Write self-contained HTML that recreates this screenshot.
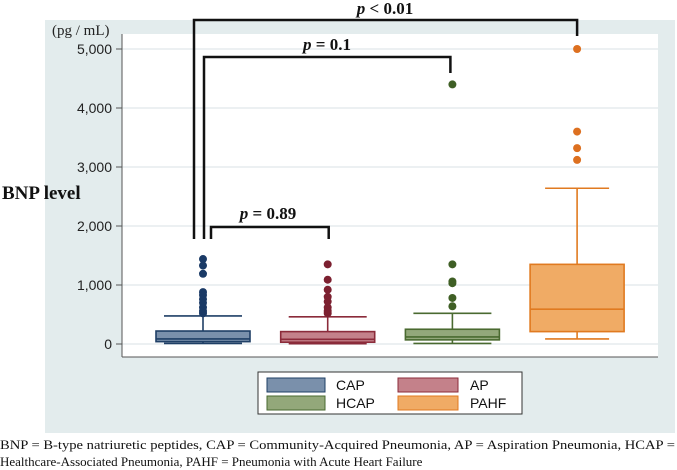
<!DOCTYPE html>
<html><head><meta charset="utf-8"><style>
body{margin:0;background:#fff;width:677px;height:470px;overflow:hidden}
svg{display:block}
</style></head><body>
<svg id="chart" width="677" height="470" xmlns="http://www.w3.org/2000/svg" font-family="Liberation Sans, sans-serif">
<rect x="45" y="20" width="630" height="413" fill="#e3eced"/>
<rect x="122" y="34" width="536" height="323" fill="#ffffff"/>
<g id="grid"></g><g id="yaxis"></g><g id="boxes"></g>
<line x1="122" y1="34" x2="122" y2="357" stroke="#555" stroke-width="1"/>
<line x1="122" y1="357" x2="658" y2="357" stroke="#555" stroke-width="1"/>
<text x="52" y="35" font-family="Liberation Serif, serif" font-size="15" fill="#222">(pg / mL)</text>
<text x="2" y="199" font-family="Liberation Serif, serif" font-size="19" font-weight="bold" fill="#111">BNP level</text>
<g id="brackets" fill="none" stroke="#111" stroke-width="2.5"></g>
<g font-family="Liberation Serif, serif" font-weight="bold" font-size="17" fill="#111" text-anchor="middle">
<text x="385" y="14"><tspan font-style="italic">p</tspan> &lt; 0.01</text>
<text x="327" y="50"><tspan font-style="italic">p</tspan> = 0.1</text>
<text x="268" y="219"><tspan font-style="italic">p</tspan> = 0.89</text>
</g>
<g>
<rect x="258" y="372" width="264" height="42" fill="#fff" stroke="#333" stroke-width="1"/>
<rect x="267" y="378" width="58" height="14" fill="#7a90ab" stroke="#1f3f66"/>
<text x="336" y="390" font-size="14" fill="#111">CAP</text>
<rect x="398" y="378" width="60" height="14" fill="#c4818a" stroke="#8b2b3a"/>
<text x="470" y="390" font-size="14" fill="#111">AP</text>
<rect x="267" y="396" width="58" height="14" fill="#93a87a" stroke="#4a6a30"/>
<text x="336" y="408" font-size="14" fill="#111">HCAP</text>
<rect x="398" y="396" width="60" height="14" fill="#f0ab65" stroke="#e07a20"/>
<text x="470" y="408" font-size="14" fill="#111">PAHF</text>
</g>
<g font-family="Liberation Serif, serif" font-size="13" fill="#111">
<text x="0" y="449" textLength="675" lengthAdjust="spacingAndGlyphs">BNP = B-type natriuretic peptides, CAP = Community-Acquired Pneumonia, AP = Aspiration Pneumonia, HCAP =</text>
<text x="0" y="466">Healthcare-Associated Pneumonia, PAHF = Pneumonia with Acute Heart Failure</text>
</g>
</svg>
<script>
const categories = ["CAP","AP","HCAP","PAHF"];
const lowerWhisker = [10, 5, 10, 85];
const q1 = [40, 30, 70, 210];
const median = [85, 80, 120, 590];
const q3 = [220, 210, 250, 1350];
const upperWhisker = [475, 460, 520, 2640];
const outliersCAP = [1440, 1330, 1190, 880, 830, 760, 700, 620, 560, 520];
const outliersAP = [1350, 1090, 920, 800, 720, 620, 560, 520];
const outliersHCAP = [4400, 1350, 1060, 1030, 780, 640];
const outliersPAHF = [5000, 3600, 3320, 3120];
const yTicks = [0, 1000, 2000, 3000, 4000, 5000];
const yTickLabels = ["0", "1,000", "2,000", "3,000", "4,000", "5,000"];

const outliers = [outliersCAP, outliersAP, outliersHCAP, outliersPAHF];
const fills = ["#7a90ab","#c4818a","#93a87a","#f0ab65"];
const strokes = ["#1f3f66","#8b2b3a","#4a6a30","#e07a20"];
const dots = ["#1a3a66","#7c2030","#3f5f25","#dd7020"];
const NS = "http://www.w3.org/2000/svg";
function y(v){ return 344 - v * 0.059; }
function x(i){ return 203 + i * 124.7; }
function mk(tag, attrs, parent){
  const e = document.createElementNS(NS, tag);
  for (const k in attrs) e.setAttribute(k, attrs[k]);
  parent.appendChild(e); return e;
}
const grid = document.getElementById('grid');
const yaxis = document.getElementById('yaxis');
yTicks.forEach((t, i) => {
  const g = mk('line', {x1:122, x2:658, y1:y(t), y2:y(t), stroke:'#e6ecee', 'stroke-width':1.5}, grid);
  
  
  const tk = mk('line', {x1:116, x2:122, y1:y(t), y2:y(t), stroke:'#555'}, yaxis);
  
  
  const tx = mk('text', {x:112, y:y(t)+5, 'text-anchor':'end', 'font-size':14, fill:'#222'}, yaxis);
  tx.textContent = yTickLabels[i];
  
  
});
const boxes = document.getElementById('boxes');
categories.forEach((c, i) => {
  const cx = x(i), hw = 47, cw = i === 3 ? 32 : 39;
  const g = mk('g', {stroke:strokes[i], 'stroke-width':1.6}, boxes);
  
  
  mk('line', {x1:cx, x2:cx, y1:y(upperWhisker[i]), y2:y(q3[i])}, g);
  mk('line', {x1:cx, x2:cx, y1:y(q1[i]), y2:y(lowerWhisker[i])}, g);
  mk('line', {x1:cx-cw, x2:cx+cw, y1:y(upperWhisker[i]), y2:y(upperWhisker[i])}, g);
  mk('line', {x1:cx-cw, x2:cx+cw, y1:y(lowerWhisker[i]), y2:y(lowerWhisker[i])}, g);
  mk('rect', {x:cx-hw, y:y(q3[i]), width:hw*2, height:y(q1[i])-y(q3[i]), fill:fills[i]}, g);
  mk('line', {x1:cx-hw, x2:cx+hw, y1:y(median[i]), y2:y(median[i])}, g);
  outliers[i].forEach(v => {
    const d = mk('circle', {cx:cx, cy:y(v), r:4, fill:dots[i], stroke:'none'}, boxes);
    
    
  });
});
const br = document.getElementById('brackets');
const b1 = mk('path', {d:`M${x(0)-9} 239 V20 H${x(3)} V36`}, br);


const b2 = mk('path', {d:`M${x(0)+1} 239 V57 H${x(2)-2} V73`}, br);


const b3 = mk('path', {d:`M${x(0)+8} 239 V227 H${x(1)+1} V239`}, br);


</script>
</body></html>
